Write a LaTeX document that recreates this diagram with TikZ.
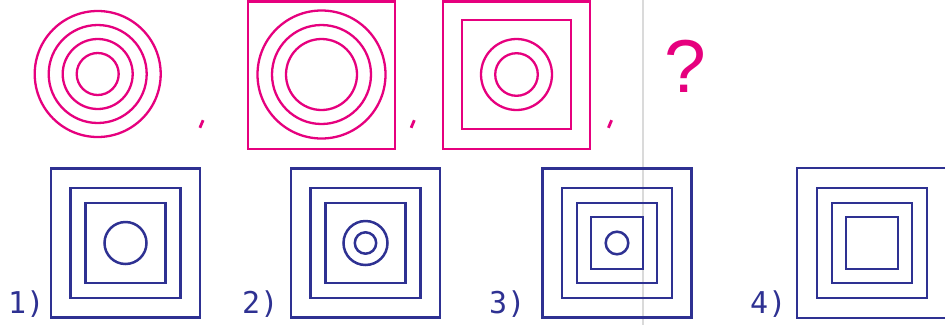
\documentclass[tikz,border=0pt]{standalone}
\usepackage{fontspec}
\newfontfamily\labfont{DejaVu Sans Mono}
\newfontfamily\qfont{Liberation Sans}
\definecolor{mag}{RGB}{230,0,126}
\definecolor{navy}{RGB}{46,49,146}
\definecolor{sepgray}{RGB}{218,218,218}
\newcommand\mysq[3]{\draw[bl] ({#1-#3/2},{#2-#3/2}) rectangle ({#1+#3/2},{#2+#3/2});}
\newcommand\mypsq[3]{\draw[pk] ({#1-#3/2},{#2-#3/2}) rectangle ({#1+#3/2},{#2+#3/2});}
\newcommand\mycomma[2]{\draw[pk, line width=2.8pt] ({#1+1.6},{#2-3.8}) -- ({#1-1.6},{#2+3.8});}
\begin{document}
\begin{tikzpicture}[x=1pt,y=-1pt,
  pk/.style={draw=mag,line width=2.3pt},
  bl/.style={draw=navy,line width=2.5pt},
  lab/.style={text=navy,font=\labfont\fontsize{30}{30}\selectfont,anchor=base west,inner sep=0pt}]
\useasboundingbox (0,0) rectangle (945,325);
\clip (0,0) rectangle (945,325);
\fill[white] (0,0) rectangle (945,325);
\draw[sepgray, line width=1.6pt] (642.7,0) -- (642.7,325);
% top row
\foreach \r in {63,49,35,21} \draw[pk] (97.7,74) circle[radius=\r pt];
\mycomma{201.5}{124}
\mypsq{321.5}{75.2}{147.6}
\foreach \r in {64,49.5,35.5} \draw[pk] (321.5,74.5) circle[radius=\r pt];
\mycomma{412.7}{124}
\mypsq{516.5}{75.2}{147.6}
\mypsq{516.5}{74.5}{109}
\foreach \r in {35.5,21.3} \draw[pk] (516.5,74.5) circle[radius=\r pt];
\mycomma{610}{124}
\node[text=mag,font=\qfont\fontsize{75}{75}\selectfont,anchor=base,inner sep=0pt] (q) at (685.5,92) {?};
% bottom row
\mysq{125.5}{243}{149}
\mysq{125.5}{243}{110}
\mysq{125.5}{243}{80}
\draw[bl] (125.5,243) circle[radius=21pt];
\mysq{365.5}{243}{149}
\mysq{365.5}{243}{110}
\mysq{365.5}{243}{80}
\draw[bl] (365.5,243) circle[radius=22pt];
\draw[bl] (365.5,243) circle[radius=10.7pt];
\mysq{617}{243}{149}
\mysq{617}{243}{110}
\mysq{617}{243}{80}
\mysq{617}{243}{52}
\draw[bl] (617,243) circle[radius=11.3pt];
\mysq{872}{243}{150}
\mysq{872}{243}{110}
\mysq{872}{243}{80}
\mysq{872}{243}{52}
\node[lab] (l1) at (8,313) {1)};
\node[lab] (l2) at (242,313) {2)};
\node[lab] (l3) at (489,313) {3)};
\node[lab] (l4) at (750,313) {4)};
\end{tikzpicture}
\end{document}
